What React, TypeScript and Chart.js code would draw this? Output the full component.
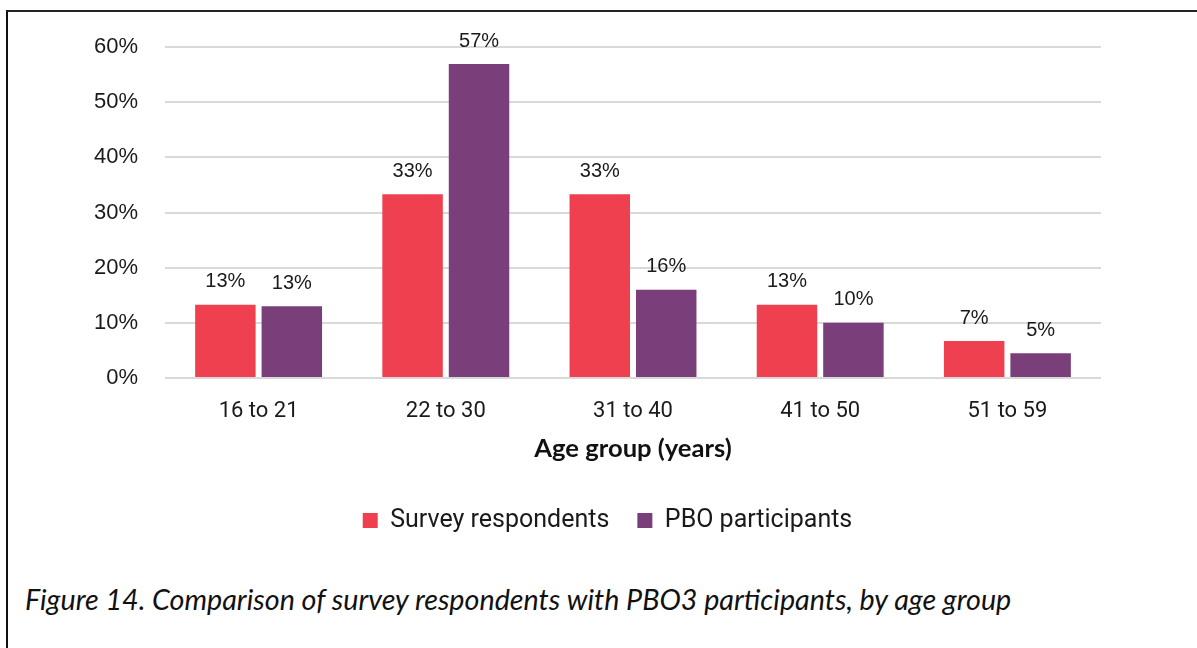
import React, { useEffect, useRef } from "react";
import { Chart, registerables } from "chart.js";

Chart.register(...registerables);

// Age bands on the category axis
const ageGroups = ["16 to 21", "22 to 30", "31 to 40", "41 to 50", "51 to 59"];
// Share of each group, in percent
const surveyRespondents = [13.3, 33.3, 33.3, 13.3, 6.7];
const pboParticipants = [13.0, 56.9, 16.0, 10.0, 4.5];
const seriesNames = ["Survey respondents", "PBO participants"];
const yTickValues = [0, 10, 20, 30, 40, 50, 60];

const RED = "#EF4050";
const PURPLE = "#7A3F7A";

// Draws the rounded percentage above each bar
const valueLabels = {
  id: "valueLabels",
  afterDatasetsDraw(chart: any) {
    const ctx = chart.ctx;
    ctx.save();
    ctx.font = "20px 'Liberation Sans', Arial, sans-serif";
    ctx.fillStyle = "#1a1a1a";
    ctx.textAlign = "center";
    ctx.textBaseline = "middle";
    chart.data.datasets.forEach((ds: any, i: number) => {
      const meta = chart.getDatasetMeta(i);
      meta.data.forEach((bar: any, j: number) => {
        const v = ds.data[j];
        ctx.fillText(Math.round(v) + "%", bar.x, bar.y - 23);
      });
    });
    ctx.restore();
  },
};

// Nudges the legend box to the right of the canvas centre
const legendShift = {
  id: "legendShift",
  afterLayout(chart: any) {
    const lg = chart.legend;
    if (!lg) return;
    const dx = 53;
    lg.left += dx;
    lg.right += dx;
  },
};

export default function App() {
  const canvasRef = useRef<HTMLCanvasElement | null>(null);

  useEffect(() => {
    if (!canvasRef.current) return;
    const chart = new Chart(canvasRef.current, {
      type: "bar",
      data: {
        labels: ageGroups,
        datasets: [
          {
            label: seriesNames[0],
            data: surveyRespondents,
            backgroundColor: RED,
            categoryPercentage: 0.71,
            barPercentage: 0.91,
          },
          {
            label: seriesNames[1],
            data: pboParticipants,
            backgroundColor: PURPLE,
            categoryPercentage: 0.71,
            barPercentage: 0.91,
          },
        ],
      },
      options: {
        responsive: false,
        animation: false,
        layout: { padding: { top: 35, right: 96, bottom: 13, left: 0 } },
        plugins: {
          tooltip: { enabled: false },
          legend: {
            position: "bottom",
            labels: {
              boxWidth: 15,
              boxHeight: 15,
              padding: 28,
              color: "#1a1a1a",
              font: { family: "Roboto, sans-serif", size: 25 },
            },
          },
        },
        scales: {
          x: {
            grid: { display: false, drawTicks: false },
            border: { display: false },
            ticks: {
              padding: 20,
              color: "#1a1a1a",
              font: { family: "Roboto, sans-serif", size: 22 },
            },
            title: {
              display: true,
              text: "Age group (years)",
              color: "#111",
              font: { family: "Lato, sans-serif", size: 25.6, weight: "bold" },
              padding: { top: 0, bottom: 16 },
            },
            afterFit(scale: any) {
              scale.height = 102;
            },
          },
          y: {
            min: 0,
            max: 60,
            afterBuildTicks(scale: any) {
              scale.ticks = yTickValues.map((v) => ({ value: v }));
            },
            grid: { color: "#D9D9D9", lineWidth: 2, drawTicks: false },
            border: { display: false },
            ticks: {
              padding: 27,
              color: "#1a1a1a",
              font: { family: "'Liberation Sans', Arial, sans-serif", size: 22 },
              callback: (v: any) => v + "%",
            },
            afterFit(scale: any) {
              scale.width = 157;
              scale.paddingTop = 0;
              scale.paddingBottom = 0;
            },
          },
        },
      },
      plugins: [valueLabels, legendShift],
    });
    return () => chart.destroy();
  }, []);

  return (
    <div style={{ position: "absolute", left: 0, top: 0, width: 1197, height: 648, overflow: "hidden", background: "#fff" }}>
      <div
        style={{
          position: "absolute",
          left: 6,
          top: 10,
          width: 1300,
          height: 700,
          borderLeft: "2px solid #111",
          borderTop: "2px solid #222",
        }}
      />
      <canvas
        ref={canvasRef}
        width={1189}
        height={544}
        style={{ position: "absolute", left: 8, top: 12, width: 1189, height: 544 }}
      />
      <div
        style={{
          position: "absolute",
          left: 25,
          top: 582,
          fontFamily: "Lato, sans-serif",
          fontStyle: "italic",
          fontSize: 28.7,
          lineHeight: "34px",
          color: "#111",
          whiteSpace: "nowrap",
        }}
      >
        Figure 14. Comparison of survey respondents with PBO3 participants, by age group
      </div>
    </div>
  );
}
